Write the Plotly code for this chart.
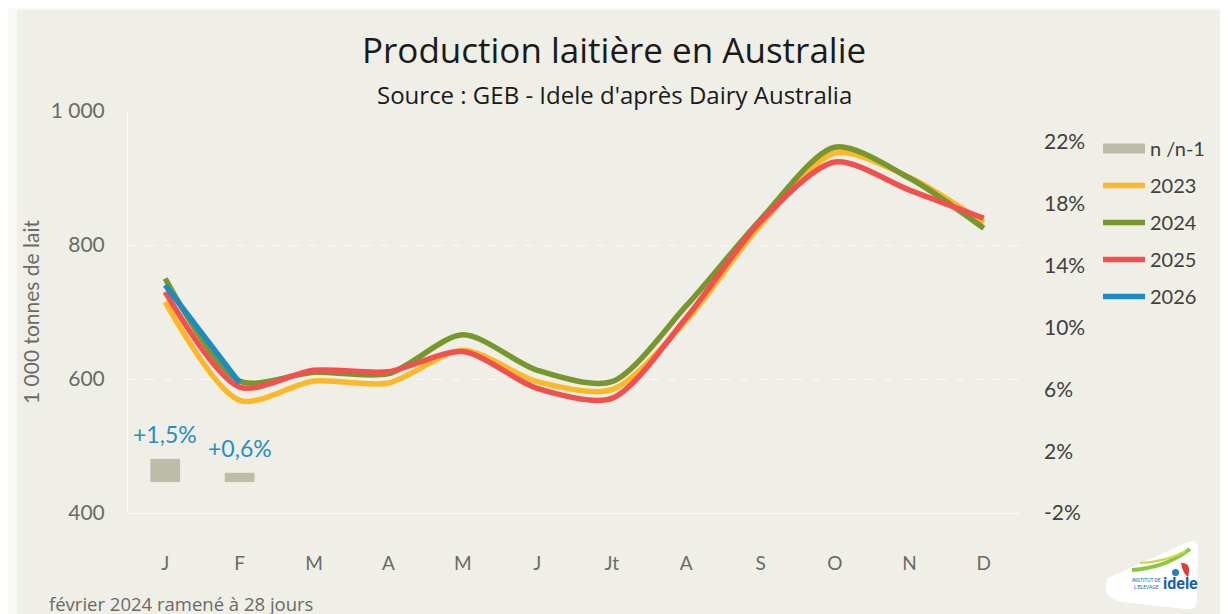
import plotly.graph_objects as go

# ---- data ----
months = ["J", "F", "M", "A", "M", "J", "Jt", "A", "S", "O", "N", "D"]
prod_2023 = [715, 568, 597, 594, 643, 596, 584, 687, 830, 937, 901, 833]
prod_2024 = [750, 597, 610, 608, 666, 613, 596, 709, 838, 946, 900, 825]
prod_2025 = [730, 588, 613, 611, 641, 586, 571, 691, 835, 924, 882, 840]
prod_2026 = [740, 594]
var_n_n1 = [1.5, 0.6]
var_labels = ["+1,5%", "+0,6%"]

left_ticks = [400, 600, 800, 1000]
left_ticktext = ["400", "600", "800", "1 000"]
right_ticks = [-2, 2, 6, 10, 14, 18, 22]
right_ticktext = ["-2%", "2%", "6%", "10%", "14%", "18%", "22%"]

xpos = list(range(len(months)))

BG = "#EFEFE7"
TXT = "#6A6A6A"
OFF = 8  # page body margin offset
L, R, T, B = 128 - OFF, 1021 - OFF, 111 - OFF, 513 - OFF
W, H = 1228, 614


def px(x):
    return (x - OFF - L) / (R - L)


def py(y):
    return (B - (y - OFF)) / (B - T)


fig = go.Figure()

fig.add_trace(go.Bar(
    x=xpos[:len(var_n_n1)], y=var_n_n1, yaxis="y2", name="n /n-1",
    marker=dict(color="#BDBDA7", line=dict(width=0)), width=0.4,
    showlegend=False,
))
# legend swatch for the bar series
fig.add_trace(go.Scatter(
    x=[None], y=[None], yaxis="y2", name="n /n-1", mode="lines",
    line=dict(color="#BDBDA7", width=14), legendgroup="g0",
))

series = [
    ("2023", prod_2023, "#FBB829"),
    ("2024", prod_2024, "#77972E"),
    ("2025", prod_2025, "#F2504F"),
    ("2026", prod_2026, "#1B8BC2"),
]
for i, (name, vals, col) in enumerate(series):
    fig.add_trace(go.Scatter(
        x=xpos[:len(vals)], y=vals, name=name, mode="lines",
        line=dict(color=col, width=5.5, shape="spline", smoothing=0.8),
        legendgroup="g%d" % (i + 1),
    ))

for i, (v, t) in enumerate(zip(var_n_n1, var_labels)):
    fig.add_annotation(
        x=xpos[i], y=v, yref="y2", text=t, showarrow=False,
        xanchor="center", yanchor="bottom", yshift=9,
        font=dict(family="Lato", size=23, color="#2A8DC0"),
    )


def note(x, y, text, size, color, family="Open Sans", xanchor="center", bold=False):
    fig.add_annotation(xref="paper", yref="paper", x=px(x), y=py(y), text=text,
                       showarrow=False, xanchor=xanchor, yanchor="middle",
                       font=dict(family=family, size=size, color=color))


# title / subtitle / footnote
note(614, 50, "Production laitière en Australie", 35, "#1a1a1a")
note(614, 95, "Source : GEB - Idele d'après Dairy Australia", 24, "#1a1a1a")
note(47, 603, "février 2024 ramené à 28 jours", 18.5, TXT, xanchor="left")

# white frame strips
fig.add_shape(type="rect", xref="paper", yref="paper", x0=px(0), x1=px(17), y0=py(630), y1=py(0),
              fillcolor="#F8F8F4", line=dict(width=0), layer="below")
fig.add_shape(type="rect", xref="paper", yref="paper", x0=px(0), x1=px(1240), y0=py(10), y1=py(0),
              fillcolor="#F8F8F4", line=dict(width=0), layer="below")


def P(x, y):
    return "%f %f" % (px(x), py(y))


# logo approximation
fig.add_shape(type="path", xref="paper", yref="paper",
              path="M %s L %s Q %s %s L %s Q %s %s L %s Q %s %s Z" % (
                  P(1108, 578), P(1188, 542), P(1198, 538), P(1198, 550),
                  P(1197, 600), P(1197, 610), P(1186, 609),
                  P(1122, 602), P(1100, 598), P(1108, 578)),
              fillcolor="white", line=dict(width=0))
fig.add_shape(type="path", xref="paper", yref="paper",
              path="M %s Q %s %s" % (P(1132, 570), P(1165, 568), P(1190, 549)),
              line=dict(color="#8DC63F", width=4))
fig.add_shape(type="path", xref="paper", yref="paper",
              path="M %s Q %s %s" % (P(1140, 563), P(1165, 562), P(1186, 551)),
              line=dict(color="#C8D84A", width=2))
fig.add_shape(type="path", xref="paper", yref="paper",
              path="M %s Q %s %s Q %s %s Z" % (P(1181, 563), P(1192, 562), P(1188, 577),
                                               P(1183, 574), P(1181, 563)),
              fillcolor="#E53935", line=dict(width=0))
fig.add_shape(type="circle", xref="paper", yref="paper",
              x0=px(1172), x1=px(1179), y0=py(576), y1=py(569),
              fillcolor="#2A7CC2", line=dict(width=0))
note(1180, 583, "<b>idele</b>", 16, "#1E5FA8", family="Roboto")
note(1146, 583, "INSTITUT DE<br>L'ELEVAGE", 5, "#1E5FA8", family="Roboto")

fig.update_layout(
    width=W, height=H,
    margin=dict(l=L, r=W - R, t=T, b=H - B),
    paper_bgcolor=BG, plot_bgcolor=BG,
    showlegend=True,
    legend=dict(x=px(1098), y=py(129), xanchor="left", yanchor="top",
                bgcolor="rgba(0,0,0,0)", font=dict(family="Lato", size=20, color="#404040"),
                traceorder="grouped", tracegroupgap=8, itemwidth=42),
    bargap=0.6,
    xaxis=dict(range=[-0.5, 11.5], tickvals=xpos, ticktext=months,
               showgrid=False, zeroline=False, showline=True, linecolor="#FAFAF6",
               linewidth=1, ticks="", ticklabelstandoff=33,
               tickfont=dict(family="Lato", size=19, color=TXT)),
    yaxis=dict(range=[400, 1000], tickvals=left_ticks, ticktext=left_ticktext,
               showgrid=True, gridcolor="#FAFAF6", gridwidth=1, griddash="dash",
               zeroline=False, showline=True, linecolor="#FAFAF6", ticks="",
               ticklabelstandoff=18,
               tickfont=dict(family="Lato", size=21, color=TXT),
               title=dict(text="1 000 tonnes de lait", standoff=5,
                          font=dict(family="Lato", size=21, color=TXT))),
    yaxis2=dict(range=[-2, 24], tickvals=right_ticks, ticktext=right_ticktext,
                overlaying="y", side="right", showgrid=False, zeroline=False,
                showline=False, ticks="", ticklabelstandoff=22,
                tickfont=dict(family="Lato", size=21, color="#404040")),
)

fig.write_html("out.html")
